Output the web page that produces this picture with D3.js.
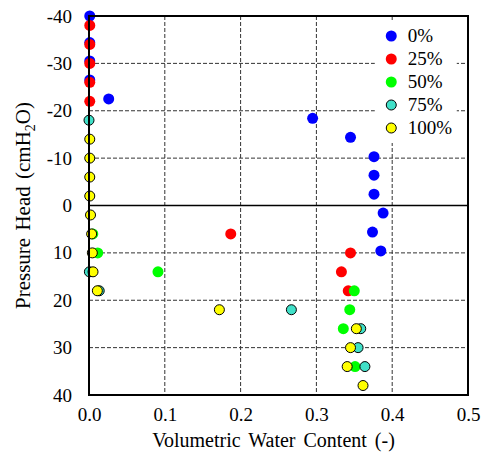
<!DOCTYPE html>
<html>
<head>
<meta charset="utf-8">
<script src="https://cdn.jsdelivr.net/npm/d3@7.9.0/dist/d3.min.js"></script>
<style>
  body { margin: 0; background: #fff; }
</style>
</head>
<body>
<svg id="chart" width="483" height="452"></svg>
<script>
// --- data (pressure head in cmH2O, volumetric water content) ---
const seriesNames = ["0%", "25%", "50%", "75%", "100%"];
const seriesColors = ["#0000ff", "#ff0000", "#00ff00", "#40e0c8", "#ffff00"];
const seriesOutlined = [false, false, false, true, true];

const heads0 = [-40, -34.4, -30.5, -26.5, -22.5, -18.4, -14.4, -10.3, -6.4, -2.4, 1.6, 5.6, 9.6];
const theta0 = [0.001, 0.001, 0.001, 0.001, 0.026, 0.295, 0.345, 0.376, 0.376, 0.376, 0.388, 0.374, 0.385];

const heads25 = [-38, -34, -30, -26, -22, 6, 10, 14, 18];
const theta25 = [0.001, 0.001, 0.001, 0.001, 0.001, 0.187, 0.345, 0.333, 0.342];

const heads50 = [6, 10, 14, 18, 22, 26, 34];
const theta50 = [0.005, 0.0115, 0.091, 0.350, 0.344, 0.3355, 0.351];

const heads75 = [-18, 14, 18, 22, 26, 30, 34];
const theta75 = [0.0, 0.0005, 0.0135, 0.267, 0.3585, 0.355, 0.364];

const heads100 = [-14, -10, -6, -2, 2, 6, 10, 14, 18, 22, 26, 30, 34, 38];
const theta100 = [0.001, 0.001, 0.001, 0.001, 0.002, 0.0035, 0.0044, 0.0053, 0.011, 0.172, 0.3527, 0.345, 0.3406, 0.3615];

const xTicks = [0, 0.1, 0.2, 0.3, 0.4, 0.5];
const yTicks = [-40, -30, -20, -10, 0, 10, 20, 30, 40];

const allHeads = [heads0, heads25, heads50, heads75, heads100];
const allTheta = [theta0, theta25, theta50, theta75, theta100];

const series = seriesNames.map((name, i) => ({
  name,
  color: seriesColors[i],
  outlined: seriesOutlined[i],
  points: allHeads[i].map((h, j) => ({ h, theta: allTheta[i][j] }))
}));

const serifFont = '"Liberation Serif", "Times New Roman", Times, serif';

// --- chart setup ---
const svg = d3.select("#chart");
const width = +svg.attr("width");
const height = +svg.attr("height");
const margin = { top: 16, right: 15, bottom: 57, left: 89 };
const innerWidth = width - margin.left - margin.right;
const innerHeight = height - margin.top - margin.bottom;

const x = d3.scaleLinear().domain([0, 0.5]).range([0, innerWidth]);
const y = d3.scaleLinear().domain([-40, 40]).range([0, innerHeight]);

const g = svg.append("g")
  .attr("transform", `translate(${margin.left},${margin.top})`);

// grid lines (dashed), zero line solid
g.append("g")
  .selectAll("line")
  .data(xTicks.slice(1, -1))
  .enter()
  .append("line")
  .attr("x1", d => x(d)).attr("x2", d => x(d))
  .attr("y1", 0).attr("y2", innerHeight)
  .attr("stroke", "#333")
  .attr("stroke-dasharray", "4,2");

g.append("g")
  .selectAll("line")
  .data(yTicks.filter(d => d !== 0 && d !== -40 && d !== 40))
  .enter()
  .append("line")
  .attr("x1", 0).attr("x2", innerWidth)
  .attr("y1", d => y(d)).attr("y2", d => y(d))
  .attr("stroke", "#333")
  .attr("stroke-dasharray", "4,2");

g.append("line")
  .attr("x1", 0).attr("x2", innerWidth)
  .attr("y1", y(0)).attr("y2", y(0))
  .attr("stroke", "#000")
  .attr("stroke-width", 1.5);

// legend box background hides grid behind it
const legend = g.append("g").attr("transform", `translate(${x(0.377)},4)`);
legend.append("rect")
  .attr("width", 82).attr("height", 123)
  .attr("fill", "#fff");

// points, drawn in series order
series.forEach(s => {
  g.append("g")
    .selectAll("circle")
    .data(s.points)
    .enter()
    .append("circle")
    .attr("cx", d => x(d.theta))
    .attr("cy", d => y(d.h))
    .attr("r", s.outlined ? 5 : 5.5)
    .attr("fill", s.color)
    .attr("stroke", s.outlined ? "#000" : "none")
    .attr("stroke-width", 1);
});

// border
g.append("rect")
  .attr("width", innerWidth).attr("height", innerHeight)
  .attr("fill", "none")
  .attr("stroke", "#000")
  .attr("stroke-width", 2);

// axes (labels only)
const xAxis = g.append("g")
  .attr("transform", `translate(0,${innerHeight})`)
  .call(d3.axisBottom(x).tickValues(xTicks).tickFormat(d3.format(".1f")).tickSize(0).tickPadding(13));
const yAxis = g.append("g")
  .call(d3.axisLeft(y).tickValues(yTicks).tickFormat(d => String(d)).tickSize(0).tickPadding(17));
[xAxis, yAxis].forEach(a => {
  a.select(".domain").remove();
  a.attr("font-family", serifFont);
  a.selectAll("text")
    .style("font-family", serifFont)
    .style("font-size", "19px")
    .attr("fill", "#000");
});

// legend entries
seriesNames.forEach((name, i) => {
  const row = legend.append("g").attr("transform", `translate(0,${16 + i * 23})`);
  row.append("circle")
    .attr("cx", 16.5).attr("cy", 0)
    .attr("r", seriesOutlined[i] ? 5 : 5.5)
    .attr("fill", seriesColors[i])
    .attr("stroke", seriesOutlined[i] ? "#000" : "none");
  row.append("text")
    .attr("x", 33).attr("y", 6)
    .style("font-family", serifFont)
    .style("font-size", "19px")
    .text(name);
});

// axis titles
svg.append("text")
  .attr("x", margin.left + innerWidth / 2 - 5)
  .attr("y", 447)
  .attr("text-anchor", "middle")
  .style("font-family", serifFont)
  .style("font-size", "20px")
  .style("word-spacing", "3px")
  .text("Volumetric Water Content (-)");

const yTitle = svg.append("text")
  .attr("transform", `translate(30,${margin.top + innerHeight / 2}) rotate(-90)`)
  .attr("text-anchor", "middle")
  .style("font-family", serifFont)
  .style("font-size", "21px")
  .style("word-spacing", "2px");
yTitle.append("tspan").text("Pressure Head (cmH");
yTitle.append("tspan").style("font-size", "14px").attr("dy", 5).text("2");
yTitle.append("tspan").attr("dy", -5).text("O)");
</script>
</body>
</html>
